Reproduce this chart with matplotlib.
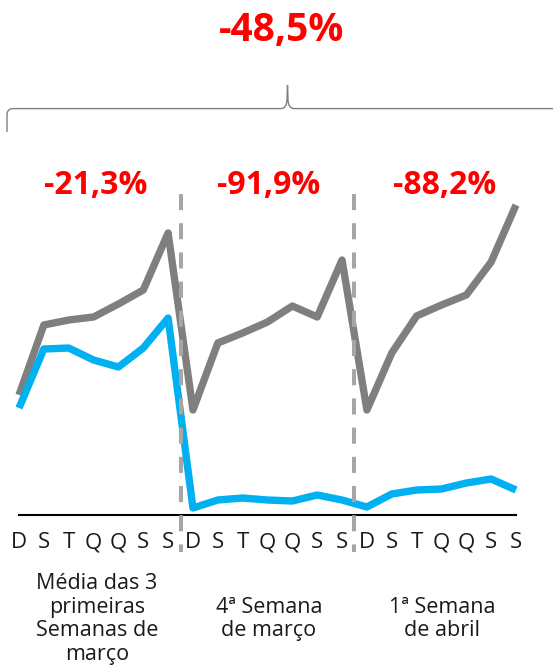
import matplotlib.pyplot as plt
from matplotlib.path import Path
from matplotlib.patches import PathPatch

# Dados (altura acima do eixo, escala arbitrária)
dias = ["D", "S", "T", "Q", "Q", "S", "S"] * 3
serie_cinza = [120, 190, 195, 198, 211, 225, 282,
               105, 172, 182, 193, 209, 198, 255,
               105, 162, 199, 210, 220, 253, 310]
serie_azul = [107, 166, 167, 155, 148, 167, 197,
              7, 15, 17, 15, 14, 20, 15,
              8, 21, 25, 26, 32, 36, 25]
grupos = ["Média das 3\nprimeiras\nSemanas de\nmarço",
          "4ª Semana\nde março",
          "1ª Semana\nde abril"]
variacoes = ["-21,3%", "-91,9%", "-88,2%"]
variacao_total = "-48,5%"

CINZA = "#7f7f7f"
AZUL = "#00b0f0"
TRACEJADO = "#a6a6a6"
VERMELHO = "#ff0000"
TEXTO = "#1a1a1a"
FONTE = ["Open Sans", "DejaVu Sans"]

W, H = 553, 666
fig = plt.figure(figsize=(W / 100, H / 100), dpi=100)

# Eixo principal: x de -0.5 a 20.5, y de 0 a 330
ax = fig.add_axes([6.575 / W, (H - 515) / H, 521.85 / W, 330 / H])
ax.set_xlim(-0.5, 20.5)
ax.set_ylim(0, 330)
ax.axis("off")

x = list(range(len(dias)))
ax.plot(x, serie_cinza, color=CINZA, lw=5.3, solid_joinstyle="round",
        solid_capstyle="butt", zorder=2)
ax.plot(x, serie_azul, color=AZUL, lw=5.3, solid_joinstyle="round",
        solid_capstyle="butt", zorder=3)

# Linha de base
ax.plot([0, 20], [0, 0], color="black", lw=1.5, zorder=1, clip_on=False)

# Separadores das semanas
for xs in (6.5, 13.5):
    ax.plot([xs, xs], [321, -37], color=TRACEJADO, lw=2.9,
            dashes=(4, 3.25), zorder=4, clip_on=False)

# Rótulos dos dias
for xi, d in zip(x, dias):
    ax.text(xi, -28, d, ha="center", va="center", fontsize=16,
            family=FONTE, color=TEXTO)

# Rótulos dos grupos e variações
centros = [97, 269, 442]
for cx, g in zip(centros, grupos):
    fig.text(cx / W, 1 - 619 / H, g, ha="center", va="center",
             fontsize=15.5, family=FONTE, linespacing=1.17, color=TEXTO)

for cx, v in zip([96, 269, 445], variacoes):
    fig.text(cx / W, 1 - 186 / H, v, ha="center", va="center",
             fontsize=23, family=FONTE, fontweight="bold", color=VERMELHO)

fig.text(281.5 / W, 1 - 30 / H, variacao_total, ha="center", va="center",
         fontsize=28, family=FONTE, fontweight="bold", color=VERMELHO)

# Chave no topo
ov = fig.add_axes([0, 0, 1, 1])
ov.set_xlim(0, W)
ov.set_ylim(H, 0)
ov.axis("off")
yb = 108.6
verts = [(7, 132), (7, 115), (7, yb), (13, yb), (281, yb),
         (286.5, yb), (287, 100), (287.5, 85),
         (288, 100), (288.5, yb), (294, yb), (W + 5, yb)]
codes = [Path.MOVETO, Path.LINETO, Path.CURVE3, Path.CURVE3, Path.LINETO,
         Path.CURVE3, Path.CURVE3, Path.LINETO,
         Path.LINETO, Path.CURVE3, Path.CURVE3, Path.LINETO]
ov.add_patch(PathPatch(Path(verts, codes), fill=False, edgecolor=CINZA, lw=1))

fig.savefig("out.png", dpi=100)
